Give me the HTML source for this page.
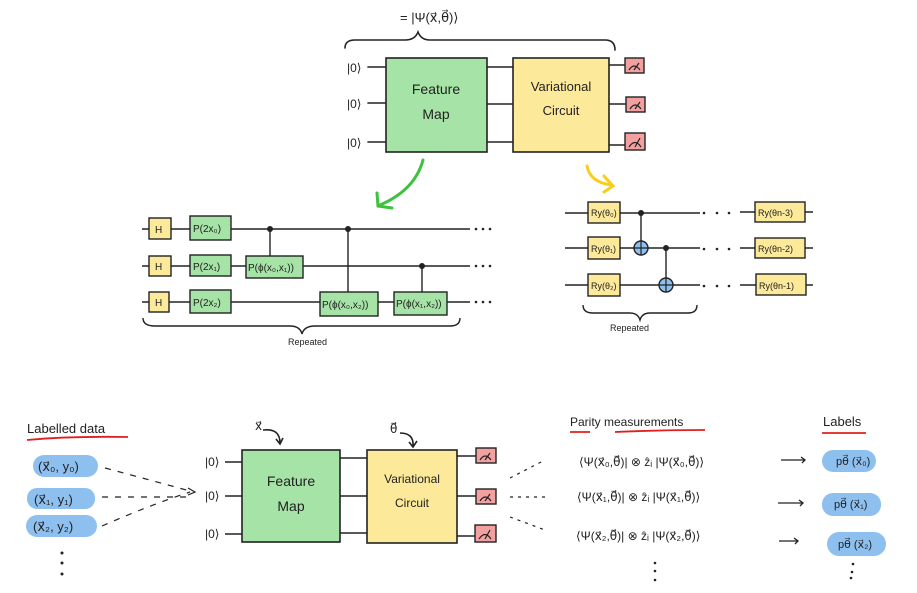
<!DOCTYPE html>
<html><head><meta charset="utf-8"><style>
html,body{margin:0;padding:0;background:#fff;}
svg{display:block;}
text{font-family:"Liberation Sans","DejaVu Sans",sans-serif;fill:#222;}
</style></head><body>
<svg width="917" height="593" viewBox="0 0 917 593" xmlns="http://www.w3.org/2000/svg">
<g stroke="#222" stroke-width="1.6" fill="none" stroke-linecap="round">
<path d="M345 48 Q345 40 355 40 L405 40 Q415 40 418 32 Q421 40 430 40 L605 40 Q615 40 615 50"/>
<path d="M368 67 H386 M368 103 H386 M368 142 H386"/>
<path d="M487 67 H513 M487 104 H513 M487 142 H513"/>
<path d="M609 65 H625 M609 104 H625 M609 145 H625"/>
</g>
<text x="400" y="22" font-size="13">= |Ψ(x⃗,θ⃗)⟩</text>
<text x="347" y="72" font-size="12">|0⟩</text>
<text x="347" y="108" font-size="12">|0⟩</text>
<text x="347" y="147" font-size="12">|0⟩</text>
<rect x="386" y="58" width="101" height="94" fill="#a6e3a6" stroke="#222" stroke-width="1.6"/>
<rect x="513" y="58" width="96" height="94" fill="#fde99a" stroke="#222" stroke-width="1.6"/>
<text x="436" y="94" font-size="14" text-anchor="middle">Feature</text>
<text x="436" y="119" font-size="14" text-anchor="middle">Map</text>
<text x="561" y="91" font-size="13" text-anchor="middle">Variational</text>
<text x="561" y="115" font-size="13" text-anchor="middle">Circuit</text>
<g fill="#f2a0a0" stroke="#222" stroke-width="1.4">
<rect x="625" y="58" width="19" height="15"/><rect x="626" y="97" width="19" height="15"/><rect x="625" y="133" width="20" height="17"/>
<rect x="476" y="448" width="20" height="15"/><rect x="476" y="489" width="20" height="15"/><rect x="475" y="525" width="21" height="17"/>
</g>
<g stroke="#222" stroke-width="1.2" fill="none">
<path d="M629 70 Q634 62 640 70 M634 70 L639 63"/><path d="M630 109 Q635 101 641 109 M635 109 L640 102"/><path d="M629 147 Q635 138 641 147 M635 147 L640 138"/>
<path d="M480 460 Q485 452 491 460 M485 460 L490 453"/><path d="M480 501 Q485 493 491 501 M485 501 L490 494"/><path d="M479 539 Q485 530 491 539 M485 539 L490 530"/>
</g>
<path d="M423 160 Q415 190 380 205" stroke="#3cc23c" stroke-width="3" fill="none" stroke-linecap="round"/>
<path d="M377 193 L378 206 L392 208" stroke="#3cc23c" stroke-width="3" fill="none" stroke-linecap="round"/>
<path d="M587 166 Q590 182 611 185" stroke="#f7cf1a" stroke-width="3" fill="none" stroke-linecap="round"/>
<path d="M604 176 L613 186 L604 192" stroke="#f7cf1a" stroke-width="3" fill="none" stroke-linecap="round"/>

<g stroke="#222" stroke-width="1.4" fill="none">
<path d="M142 229 H470 M142 266 H470 M142 302 H470"/>
<path d="M270 229 V256 M348 229 V292 M422 266 V292"/>
<path d="M143 318 Q143 326 155 326 L290 326 Q300 326 302 334 Q304 326 315 326 L450 326 Q460 326 460 318"/>
</g>
<g fill="#222"><circle cx="270" cy="229" r="3"/><circle cx="348" cy="229" r="3"/><circle cx="422" cy="266" r="3"/></g>
<g fill="#222">
<circle cx="476" cy="229" r="1.3"/><circle cx="483" cy="229" r="1.3"/><circle cx="490" cy="229" r="1.3"/>
<circle cx="476" cy="266" r="1.3"/><circle cx="483" cy="266" r="1.3"/><circle cx="490" cy="266" r="1.3"/>
<circle cx="476" cy="302" r="1.3"/><circle cx="483" cy="302" r="1.3"/><circle cx="490" cy="302" r="1.3"/>
</g>
<g stroke="#222" stroke-width="1.4">
<rect x="149" y="218" width="22" height="21" fill="#fde99a"/><rect x="149" y="256" width="22" height="20" fill="#fde99a"/><rect x="149" y="292" width="20" height="20" fill="#fde99a"/>
<rect x="190" y="216" width="41" height="24" fill="#a6e3a6"/><rect x="190" y="255" width="41" height="21" fill="#a6e3a6"/><rect x="190" y="290" width="41" height="23" fill="#a6e3a6"/>
<rect x="246" y="256" width="57" height="22" fill="#a6e3a6"/>
<rect x="320" y="292" width="58" height="24" fill="#a6e3a6"/><rect x="394" y="292" width="53" height="23" fill="#a6e3a6"/>
</g>
<g font-size="10">
<text x="155" y="233">H</text><text x="155" y="270">H</text><text x="155" y="306">H</text>
<text x="193" y="232">P(2x₀)</text><text x="193" y="270">P(2x₁)</text><text x="193" y="306">P(2x₂)</text>
<text x="248" y="271">P(ϕ(x₀,x₁))</text><text x="322" y="308">P(ϕ(x₀,x₂))</text><text x="396" y="307">P(ϕ(x₁,x₂))</text>
<text x="288" y="345" font-size="9">Repeated</text>
</g>

<g stroke="#222" stroke-width="1.4" fill="none">
<path d="M565 213 H700 M565 248 H700 M565 285 H700"/>
<path d="M740 212 H813 M740 248 H813 M740 285 H813"/>
<path d="M641 213 V255 M666 248 V292"/>
<path d="M583 305 Q583 313 593 313 L630 313 Q638 313 640 320 Q642 313 650 313 L688 313 Q697 313 697 305"/>
</g>
<g fill="#222"><circle cx="641" cy="213" r="3"/><circle cx="666" cy="248" r="3"/></g>
<g stroke="#222" stroke-width="1.4" fill="#8ec0ef"><circle cx="641" cy="248" r="7"/><circle cx="666" cy="285" r="7"/></g>
<g stroke="#222" stroke-width="1.2"><path d="M634 248 H648 M641 241 V255 M659 285 H673 M666 278 V292"/></g>
<g fill="#222">
<circle cx="704" cy="213" r="1.3"/><circle cx="717" cy="213" r="1.3"/><circle cx="729" cy="213" r="1.3"/>
<circle cx="704" cy="249" r="1.3"/><circle cx="717" cy="249" r="1.3"/><circle cx="729" cy="249" r="1.3"/>
<circle cx="704" cy="286" r="1.3"/><circle cx="717" cy="286" r="1.3"/><circle cx="729" cy="286" r="1.3"/>
</g>
<g stroke="#222" stroke-width="1.4" fill="#fde99a">
<rect x="588" y="202" width="32" height="21"/><rect x="588" y="237" width="32" height="22"/><rect x="588" y="274" width="32" height="22"/>
<rect x="755" y="202" width="50" height="20"/><rect x="755" y="238" width="50" height="20"/><rect x="756" y="274" width="50" height="21"/>
</g>
<g font-size="9">
<text x="591" y="216">Ry(θ₀)</text><text x="591" y="252">Ry(θ₁)</text><text x="591" y="289">Ry(θ₂)</text>
<text x="758" y="216">Ry(θn-3)</text><text x="758" y="252">Ry(θn-2)</text><text x="759" y="289">Ry(θn-1)</text>
<text x="610" y="331">Repeated</text>
</g>

<text x="27" y="433" font-size="13">Labelled data</text>
<path d="M27 440 Q70 436 128 437" stroke="#e02020" stroke-width="1.8" fill="none"/>
<g fill="#8ec0ef"><rect x="33" y="455" width="65" height="22" rx="11"/><rect x="27" y="488" width="68" height="21" rx="10"/><rect x="26" y="515" width="71" height="22" rx="11"/></g>
<g font-size="13"><text x="38" y="471">(x⃗₀, y₀)</text><text x="34" y="504">(x⃗₁, y₁)</text><text x="33" y="531">(x⃗₂, y₂)</text></g>
<g fill="#222"><circle cx="62" cy="553" r="1.5"/><circle cx="62" cy="563" r="1.5"/><circle cx="62" cy="574" r="1.5"/></g>
<g stroke="#222" stroke-width="1.2" fill="none" stroke-dasharray="6,7">
<path d="M105 468 Q150 480 190 491"/><path d="M102 497 H190"/><path d="M102 526 Q150 505 190 492"/>
</g>
<path d="M188 488 L195 492 L188 495" stroke="#222" stroke-width="1.2" fill="none"/>
<g stroke="#222" stroke-width="1.6" fill="none">
<path d="M225 462 H242 M225 496 H242 M225 534 H242 M340 458 H367 M340 496 H367 M340 533 H367 M457 456 H476 M457 496 H476 M457 536 H475"/>
<path d="M263 430 Q280 428 280 443 M276 439 L280 444 L283 438"/><path d="M400 433 Q414 433 413 446 M409 442 L413 447 L417 441"/>
</g>
<text x="255" y="430" font-size="12">x⃗</text><text x="390" y="433" font-size="12">θ⃗</text>
<g font-size="12"><text x="205" y="466">|0⟩</text><text x="205" y="500">|0⟩</text><text x="205" y="538">|0⟩</text></g>
<rect x="242" y="450" width="98" height="92" fill="#a6e3a6" stroke="#222" stroke-width="1.6"/>
<rect x="367" y="450" width="90" height="93" fill="#fde99a" stroke="#222" stroke-width="1.6"/>
<text x="291" y="486" font-size="14" text-anchor="middle">Feature</text><text x="291" y="511" font-size="14" text-anchor="middle">Map</text>
<text x="412" y="483" font-size="12" text-anchor="middle">Variational</text><text x="412" y="507" font-size="12" text-anchor="middle">Circuit</text>
<g stroke="#222" stroke-width="1.2" fill="none" stroke-dasharray="3,5">
<path d="M510 478 L545 460"/><path d="M510 497 H545"/><path d="M510 517 L545 530"/>
</g>
<text x="570" y="426" font-size="12">Parity measurements</text>
<path d="M570 432 H590 M615 432 Q660 430 705 430" stroke="#e02020" stroke-width="1.8" fill="none"/>
<text x="823" y="426" font-size="13">Labels</text>
<path d="M822 433 H866" stroke="#e02020" stroke-width="1.8" fill="none"/>
<g font-size="12">
<text x="579" y="466">⟨Ψ(x⃗₀,θ⃗)| ⊗ ẑᵢ |Ψ(x⃗₀,θ⃗)⟩</text>
<text x="577" y="501">⟨Ψ(x⃗₁,θ⃗)| ⊗ ẑᵢ |Ψ(x⃗₁,θ⃗)⟩</text>
<text x="576" y="540">⟨Ψ(x⃗₂,θ⃗)| ⊗ ẑᵢ |Ψ(x⃗₂,θ⃗)⟩</text>
</g>
<g fill="#222"><circle cx="655" cy="563" r="1.3"/><circle cx="655" cy="571" r="1.3"/><circle cx="655" cy="580" r="1.3"/><circle cx="853" cy="564" r="1.3"/><circle cx="852" cy="572" r="1.3"/><circle cx="851" cy="578" r="1.3"/></g>
<g stroke="#222" stroke-width="1.3" fill="none"><path d="M781 460 H805 M801 457 L805 460 L802 463 M778 503 H803 M799 500 L803 503 L800 506 M779 541 H798 M794 538 L798 541 L795 544"/></g>
<g fill="#8ec0ef"><rect x="822" y="450" width="54" height="22" rx="11"/><rect x="822" y="493" width="59" height="23" rx="11"/><rect x="827" y="532" width="59" height="24" rx="12"/></g>
<g font-size="11"><text x="836" y="465">pθ⃗ (x⃗₀)</text><text x="834" y="508">pθ⃗ (x⃗₁)</text><text x="838" y="548">pθ⃗ (x⃗₂)</text></g>
</svg>
</body></html>
